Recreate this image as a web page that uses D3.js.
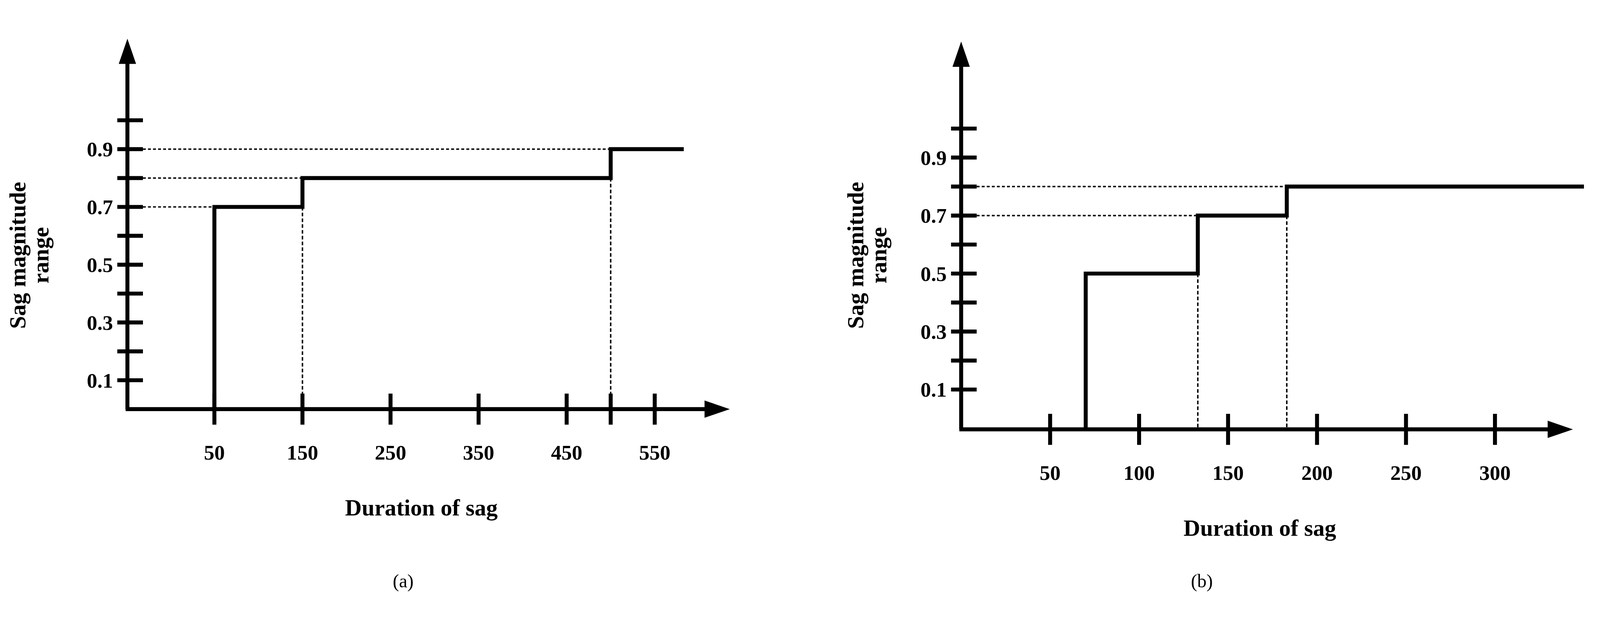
<!DOCTYPE html><html><head><meta charset="utf-8"><script src="https://cdn.jsdelivr.net/npm/d3@7"></script>
<style>html,body{margin:0;padding:0;background:#fff;overflow:hidden}svg{display:block;width:100vw;height:100vh}text{font-family:"Liberation Serif",serif;font-weight:bold;fill:#000}</style></head><body>
<svg id="c" viewBox="0 0 4433 1630"></svg>
<script>
const aXTicks=[50,150,250,350,450,500,550];
const aXLabels=["50","150","250","350","450","","550"];
const aYTicks=[0.1,0.2,0.3,0.4,0.5,0.6,0.7,0.8,0.9,1.0];
const aYLabels=["0.1","","0.3","","0.5","","0.7","","0.9",""];
const aStepX=[50,150,500,583];
const aStepY=[0.7,0.8,0.9];
const bXTicks=[50,100,150,200,250,300];
const bXLabels=["50","100","150","200","250","300"];
const bYTicks=aYTicks, bYLabels=aYLabels;
const bStepX=[70,133,183,350];
const bStepY=[0.5,0.7,0.8];

const svg=d3.select("#c");
function panel(o){
  const g=svg.append("g");
  const x=d3.scaleLinear().domain([0,100]).range([o.x0,o.x0+o.px100]);
  const y=d3.scaleLinear().domain([0,0.1]).range([o.y0,o.y0-o.py01]);
  const ax=o.axX, ay=o.axY;
  g.append("line").attr("x1",ax).attr("x2",ax).attr("y1",ay).attr("y2",o.top+60).attr("stroke","#000").attr("stroke-width",11);
  g.append("path").attr("d",`M${ax-24},${o.top+70}L${ax},${o.top}L${ax+24},${o.top+70}Z`);
  g.append("line").attr("x1",ax-5).attr("x2",o.right-60).attr("y1",ay).attr("y2",ay).attr("stroke","#000").attr("stroke-width",11);
  g.append("path").attr("d",`M${o.right-70},${ay-24}L${o.right},${ay}L${o.right-70},${ay+24}Z`);
  o.yt.forEach((v,i)=>{
    g.append("line").attr("x1",ax-28).attr("x2",ax+43).attr("y1",y(v)).attr("y2",y(v)).attr("stroke","#000").attr("stroke-width",11);
    if(o.yl[i]) g.append("text").attr("x",ax-40).attr("y",y(v)).attr("dy","0.35em").attr("text-anchor","end").attr("font-size",58).text(o.yl[i]);
  });
  o.xt.forEach((v,i)=>{
    g.append("line").attr("x1",x(v)).attr("x2",x(v)).attr("y1",ay-43).attr("y2",ay+43).attr("stroke","#000").attr("stroke-width",11);
    if(o.xl[i]) g.append("text").attr("x",x(v)).attr("y",ay+140).attr("text-anchor","middle").attr("font-size",58).text(o.xl[i]);
  });
  o.sy.forEach((v,i)=>{
    if(i>=o.hFrom) g.append("line").attr("x1",ax+43).attr("x2",x(o.sx[i])).attr("y1",y(v)).attr("y2",y(v)).attr("stroke","#000").attr("stroke-width",4).attr("stroke-dasharray","8,6");
    if(i>0) g.append("line").attr("x1",x(o.sx[i])).attr("x2",x(o.sx[i])).attr("y1",y(o.sy[i-1])).attr("y2",ay).attr("stroke","#000").attr("stroke-width",4).attr("stroke-dasharray","10,6");
  });
  let d=`M${x(o.sx[0])},${ay}`;
  o.sy.forEach((v,i)=>{d+=`L${x(o.sx[i])},${y(v)}L${x(o.sx[i+1])},${y(v)}`;});
  g.append("path").attr("d",d).attr("fill","none").attr("stroke","#000").attr("stroke-width",11);
  g.append("text").attr("x",(ax+o.right)/2-20).attr("y",ay+295).attr("text-anchor","middle").attr("font-size",64).text("Duration of sag");
  g.append("text").attr("transform",`translate(${o.ytx},${o.ytc}) rotate(-90)`).attr("text-anchor","middle").attr("font-size",64)
    .selectAll("tspan").data(["Sag magnitude","range"]).join("tspan").attr("x",0).attr("dy",(d,i)=>i?"1.0em":"0").text(d=>d);
  g.append("text").attr("x",o.cap).attr("y",1560).attr("text-anchor","middle").attr("font-size",52).style("font-weight","normal").text(o.capt);
}
panel({x0:472,px100:244,y0:1066,py01:80,axX:353,axY:1066,top:40,right:2022,xt:aXTicks,xl:aXLabels,yt:aYTicks,yl:aYLabels,sx:aStepX,sy:aStepY,hFrom:0,ytx:70,ytc:640,cap:1117,capt:"(a)"});
panel({x0:2663,px100:493,y0:1092,py01:80.3,axX:2663,axY:1122,top:48,right:4358,xt:bXTicks,xl:bXLabels,yt:bYTicks,yl:bYLabels,sx:bStepX,sy:bStepY,hFrom:1,ytx:2392,ytc:640,cap:3330,capt:"(b)"});
</script></body></html>
